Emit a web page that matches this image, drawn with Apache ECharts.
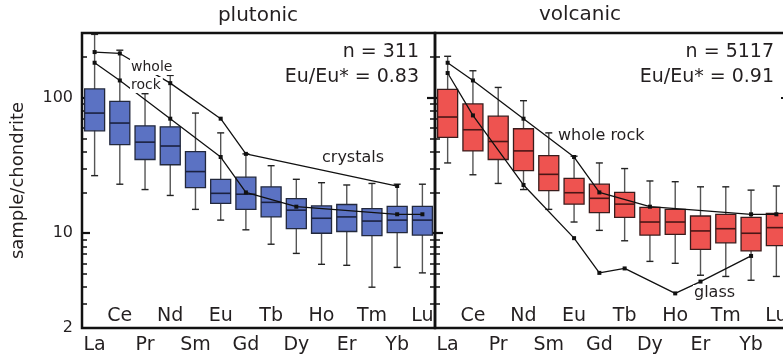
<!DOCTYPE html>
<html>
<head>
<meta charset="utf-8">
<script src="https://cdn.jsdelivr.net/npm/echarts@6/dist/echarts.min.js"></script>
<style>
html,body{margin:0;padding:0;background:#fff;}
#chart{width:783px;height:359px;}
</style>
</head>
<body>
<div id="chart"></div>
<script>
// ---- data ----
const elements = ['La','Ce','Pr','Nd','Sm','Eu','Gd','Tb','Dy','Ho','Er','Tm','Yb','Lu'];

const plutonicMin = [26.6, 23, 21, 19, 15, 12.5, 10.6, 8.3, 7.1, 5.9, 5.8, 4.0, 5.6, 5.1];
const plutonicQ1  = [57, 45, 35, 32, 21.7, 16.6, 15, 13.2, 10.8, 10, 10.3, 9.6, 10.1, 9.7];
const plutonicMed = [77, 65, 47, 44, 28.5, 19.7, 19.4, 16.9, 14.8, 12.9, 13.2, 12.3, 12.5, 12.5];
const plutonicQ3  = [116, 94, 62, 61, 40, 25, 25.9, 22, 18, 15.9, 16.3, 15.2, 15.8, 15.8];
const plutonicMax = [293, 224, 107, 146, 77, 55, 38.5, 31.5, 25, 23.6, 22.7, 23.3, 23, 23];

const volcanicMin = [33, 27, 23.3, 21, 15, 12.1, 10.5, 8.8, 6.2, 6.0, 4.9, 4.8, 4.5, 4.8];
const volcanicQ1  = [51, 40.5, 35, 29, 20.6, 16.4, 14.2, 13.1, 9.7, 9.8, 7.6, 8.5, 7.4, 8.1];
const volcanicMed = [72, 58, 47.5, 40.5, 27.2, 19.9, 18.1, 16.4, 12.1, 12.1, 10.4, 10.8, 10, 11];
const volcanicQ3  = [115, 90, 73, 59, 37.4, 25.4, 23, 20, 15.5, 15, 13.4, 13.8, 13.1, 14];
const volcanicMax = [202, 158, 119, 95, 55, 37, 33, 30, 24.3, 24, 22, 22, 20.8, 22.3];

const wholeRock = [181, 134, null, 70, null, 36.5, 20, null, 15.7, null, null, null, 13.8, 13.8];
const crystals  = [217, 212, null, 128, null, 70, 38.5, null, null, null, null, null, 22.3, null];
const glass     = [152, 74, null, 22.7, null, 9.2, 5.1, 5.5, null, 3.6, 4.4, null, 6.8, null];

const yLabelValues = [2, 10, 100];
const minorTickValues = [2,3,4,5,6,7,8,9,20,30,40,50,60,70,80,90,200];
const majorTickValues = [10, 100];

// ---- styling ----
const FONT = 'DejaVu Sans';
const TXT = '#231f20';
const Y_MIN = 2, Y_MAX = 300;

function boxData(mn, q1, md, q3, mx) {
  return elements.map((e, i) => [i, mn[i], q1[i], md[i], q3[i], mx[i]]);
}

function boxRender(fill, stroke, medColor) {
  return function (params, api) {
    const i = api.value(0);
    const pMin = api.coord([i, api.value(1)]);
    const pQ1 = api.coord([i, api.value(2)]);
    const pMed = api.coord([i, api.value(3)]);
    const pQ3 = api.coord([i, api.value(4)]);
    const pMax = api.coord([i, api.value(5)]);
    const x = pMed[0];
    const bw = 20, cw = 7;
    return {
      type: 'group',
      children: [
        {type: 'line', shape: {x1: x, y1: pMax[1], x2: x, y2: pMin[1]}, style: {stroke: '#555', lineWidth: 1.4}},
        {type: 'line', shape: {x1: x - cw / 2, y1: pMax[1], x2: x + cw / 2, y2: pMax[1]}, style: {stroke: '#222', lineWidth: 1.4}},
        {type: 'line', shape: {x1: x - cw / 2, y1: pMin[1], x2: x + cw / 2, y2: pMin[1]}, style: {stroke: '#222', lineWidth: 1.4}},
        {type: 'rect', shape: {x: x - bw / 2, y: pQ3[1], width: bw, height: pQ1[1] - pQ3[1]}, style: {fill: fill, stroke: stroke, lineWidth: 1.3}},
        {type: 'line', shape: {x1: x - bw / 2, y1: pMed[1], x2: x + bw / 2, y2: pMed[1]}, style: {stroke: medColor, lineWidth: 1.6}}
      ]
    };
  };
}

function xAxes(gridIndex) {
  return [
    {
      type: 'category', gridIndex: gridIndex, data: elements, position: 'bottom',
      axisLine: {show: false}, axisTick: {show: false}, splitLine: {show: false},
      axisLabel: {
        interval: 0, margin: 8, fontFamily: FONT, fontSize: 19, color: TXT,
        formatter: (v, i) => (i % 2 === 0 ? v : '')
      }
    },
    {
      type: 'category', gridIndex: gridIndex, data: elements, position: 'bottom',
      axisLine: {show: false}, axisTick: {show: false}, splitLine: {show: false},
      axisLabel: {
        inside: true, interval: 0, margin: 2, fontFamily: FONT, fontSize: 19, color: TXT,
        formatter: (v, i) => (i % 2 === 1 ? v : '')
      }
    }
  ];
}

function yAxis(gridIndex, position, major, withLabels) {
  const ax = {
    type: 'log', logBase: 10, gridIndex: gridIndex, position: position,
    min: Y_MIN, max: Y_MAX,
    axisLine: {show: false},
    splitLine: {show: false},
    minorTick: {show: false},
    axisTick: {
      show: true, inside: true,
      length: major ? 8 : 5,
      customValues: major ? majorTickValues : minorTickValues,
      lineStyle: {color: '#111', width: major ? 2.2 : 1.5}
    },
    axisLabel: {show: false}
  };
  if (withLabels) {
    ax.axisLabel = {
      show: true, customValues: yLabelValues, margin: 9,
      fontFamily: FONT, fontSize: 16, color: TXT,
      formatter: v => String(Math.round(v))
    };
    ax.name = 'sample/chondrite';
    ax.nameLocation = 'middle';
    ax.nameGap = 55;
    ax.nameRotate = 90;
    ax.nameTextStyle = {fontFamily: FONT, fontSize: 18, color: TXT};
  }
  return ax;
}

const chart = echarts.init(document.getElementById('chart'), null, {renderer: 'canvas'});

const option = {
  backgroundColor: '#fff',
  animation: false,
  grid: [
    {left: 82, top: 33, width: 353, height: 295, show: true, borderColor: '#111', borderWidth: 2.5, backgroundColor: 'transparent', containLabel: false, outerBoundsMode: 'none'},
    {left: 435, top: 33, width: 354, height: 295, show: true, borderColor: '#111', borderWidth: 2.5, backgroundColor: 'transparent', containLabel: false, outerBoundsMode: 'none'}
  ],
  xAxis: [].concat(xAxes(0), xAxes(1)),
  yAxis: [
    yAxis(0, 'left', false, true),
    yAxis(0, 'left', true, false),
    yAxis(0, 'right', false, false),
    yAxis(0, 'right', true, false),
    yAxis(1, 'left', false, false),
    yAxis(1, 'left', true, false),
    yAxis(1, 'right', false, false),
    yAxis(1, 'right', true, false)
  ],
  series: [
    {
      type: 'custom', xAxisIndex: 0, yAxisIndex: 0, z: 2,
      data: boxData(plutonicMin, plutonicQ1, plutonicMed, plutonicQ3, plutonicMax),
      encode: {x: 0, y: [1, 2, 3, 4, 5]},
      renderItem: boxRender('#5b72c3', '#22283c', '#1b2140')
    },
    {
      type: 'custom', xAxisIndex: 2, yAxisIndex: 4, z: 2,
      data: boxData(volcanicMin, volcanicQ1, volcanicMed, volcanicQ3, volcanicMax),
      encode: {x: 0, y: [1, 2, 3, 4, 5]},
      renderItem: boxRender('#ee5350', '#3a1c1c', '#4a1616')
    },
    {
      name: 'whole rock', type: 'line', xAxisIndex: 0, yAxisIndex: 0, z: 5,
      data: wholeRock, connectNulls: true,
      symbol: 'rect', symbolSize: 4, itemStyle: {color: '#111'},
      lineStyle: {color: '#111', width: 1.3}
    },
    {
      name: 'crystals', type: 'line', xAxisIndex: 0, yAxisIndex: 0, z: 5,
      data: crystals, connectNulls: true,
      symbol: 'rect', symbolSize: 4, itemStyle: {color: '#111'},
      lineStyle: {color: '#111', width: 1.3}
    },
    {
      name: 'whole rock', type: 'line', xAxisIndex: 2, yAxisIndex: 4, z: 5,
      data: wholeRock, connectNulls: true,
      symbol: 'rect', symbolSize: 4, itemStyle: {color: '#111'},
      lineStyle: {color: '#111', width: 1.3}
    },
    {
      name: 'glass', type: 'line', xAxisIndex: 2, yAxisIndex: 4, z: 5,
      data: glass, connectNulls: true,
      symbol: 'rect', symbolSize: 4, itemStyle: {color: '#111'},
      lineStyle: {color: '#111', width: 1.3}
    }
  ],
  graphic: [
    {type: 'text', x: 258, y: 16, z: 100, style: {text: 'plutonic', font: '20px "DejaVu Sans"', fill: TXT, align: 'center', verticalAlign: 'middle'}},
    {type: 'text', x: 580, y: 15, z: 100, style: {text: 'volcanic', font: '20px "DejaVu Sans"', fill: TXT, align: 'center', verticalAlign: 'middle'}},
    {type: 'text', x: 419, y: 52, z: 100, style: {text: 'n = 311', font: '19px "DejaVu Sans"', fill: TXT, align: 'right', verticalAlign: 'middle'}},
    {type: 'text', x: 419, y: 77, z: 100, style: {text: 'Eu/Eu* = 0.83', font: '19px "DejaVu Sans"', fill: TXT, align: 'right', verticalAlign: 'middle'}},
    {type: 'text', x: 774, y: 52, z: 100, style: {text: 'n = 5117', font: '19px "DejaVu Sans"', fill: TXT, align: 'right', verticalAlign: 'middle'}},
    {type: 'text', x: 774, y: 77, z: 100, style: {text: 'Eu/Eu* = 0.91', font: '19px "DejaVu Sans"', fill: TXT, align: 'right', verticalAlign: 'middle'}},
    {type: 'text', x: 130, y: 67, z: 100, style: {text: 'whole', font: '14px "DejaVu Sans"', fill: TXT, align: 'left', verticalAlign: 'middle', backgroundColor: '#fff', padding: [1, 2, 1, 1]}},
    {type: 'text', x: 130, y: 85, z: 100, style: {text: 'rock', font: '14px "DejaVu Sans"', fill: TXT, align: 'left', verticalAlign: 'middle', backgroundColor: '#fff', padding: [1, 2, 1, 1]}},
    {type: 'text', x: 322, y: 158, z: 100, style: {text: 'crystals', font: '16px "DejaVu Sans"', fill: TXT, align: 'left', verticalAlign: 'middle'}},
    {type: 'text', x: 558, y: 136, z: 100, style: {text: 'whole rock', font: '16px "DejaVu Sans"', fill: TXT, align: 'left', verticalAlign: 'middle'}},
    {type: 'text', x: 693, y: 293, z: 100, style: {text: 'glass', font: '16px "DejaVu Sans"', fill: TXT, align: 'left', verticalAlign: 'middle', backgroundColor: '#fff', padding: [0, 1, 0, 1]}}
  ]
};

chart.setOption(option);
</script>
</body>
</html>
